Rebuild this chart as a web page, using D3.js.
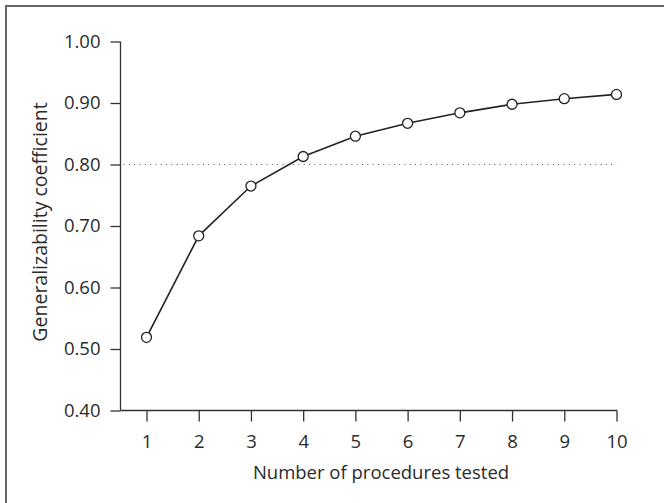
<!DOCTYPE html>
<html>
<head>
<meta charset="utf-8">
<script src="https://cdn.jsdelivr.net/npm/d3@7"></script>
<style>
  body { margin: 0; background: #fff; }
  text { font-family: "Open Sans", "Noto Sans", sans-serif; fill: #2b2b2b; }
</style>
</head>
<body>
<svg id="chart"></svg>
<script>
// data
const procedures = [1, 2, 3, 4, 5, 6, 7, 8, 9, 10];
const coefficients = [0.519, 0.684, 0.765, 0.813, 0.846, 0.867, 0.884, 0.898, 0.907, 0.914];
const yTicks = [0.40, 0.50, 0.60, 0.70, 0.80, 0.90, 1.00];
const threshold = 0.80;

const width = 664, height = 503;

const svg = d3.select('#chart')
    .attr('width', width)
    .attr('height', height);

// frame (right / bottom edges fall outside the picture)
svg.append('rect')
    .attr('x', 6).attr('y', 6)
    .attr('width', 700).attr('height', 600)
    .attr('fill', 'none')
    .attr('stroke', '#666')
    .attr('stroke-width', 2);

const xscale = d3.scaleLinear().domain([1, 10]).range([146.5, 616.5]);
const yscale = d3.scaleLinear().domain([0.4, 1.0]).range([410.5, 41.5]);
const axisX = 120.5;

const yaxis = d3.axisLeft(yscale)
    .tickValues(yTicks)
    .tickFormat(d3.format('.2f'))
    .tickSize(10)
    .tickSizeOuter(0)
    .tickPadding(10);

const xaxis = d3.axisBottom(xscale)
    .tickValues(procedures)
    .tickFormat(d3.format('d'))
    .tickSize(11)
    .tickSizeOuter(0)
    .tickPadding(13);

const yg = svg.append('g')
    .attr('transform', `translate(${axisX},0)`)
    .call(yaxis);
yg.select('.domain').remove();
yg.selectAll('line').attr('stroke', '#333').attr('stroke-width', 1.3);
yg.selectAll('text').style('font-size', '18.5px').attr('fill', '#2b2b2b');

const xg = svg.append('g')
    .attr('transform', `translate(0,${yscale(0.4)})`)
    .call(xaxis);
xg.select('.domain').remove();
xg.selectAll('line').attr('stroke', '#333').attr('stroke-width', 1.3);
xg.selectAll('text').style('font-size', '18.5px').attr('fill', '#2b2b2b');

// axis lines
svg.append('line')
    .attr('x1', axisX).attr('x2', axisX)
    .attr('y1', yscale(1.0)).attr('y2', yscale(0.4))
    .attr('stroke', '#333').attr('stroke-width', 1.3);
svg.append('line')
    .attr('x1', axisX).attr('x2', xscale(10) + 0.5)
    .attr('y1', yscale(0.4)).attr('y2', yscale(0.4))
    .attr('stroke', '#333').attr('stroke-width', 1.3);

// dotted reference line
svg.append('line')
    .attr('x1', axisX + 3).attr('x2', xscale(10))
    .attr('y1', yscale(threshold)).attr('y2', yscale(threshold))
    .attr('stroke', '#555')
    .attr('stroke-width', 1)
    .attr('stroke-dasharray', '1,4.3');

const points = procedures.map((p, i) => ({ p: p, v: coefficients[i] }));

svg.append('path')
    .datum(points)
    .attr('fill', 'none')
    .attr('stroke', '#222')
    .attr('stroke-width', 1.6)
    .attr('d', d3.line().x(d => xscale(d.p)).y(d => yscale(d.v)));

svg.selectAll('circle.pt')
    .data(points)
    .join('circle')
    .attr('class', 'pt')
    .attr('cx', d => xscale(d.p))
    .attr('cy', d => yscale(d.v))
    .attr('r', 5)
    .attr('fill', '#fff')
    .attr('stroke', '#222')
    .attr('stroke-width', 1.3);

// axis titles
svg.append('text')
    .attr('x', 381)
    .attr('y', 479)
    .attr('text-anchor', 'middle')
    .style('font-size', '18.5px')
    .text('Number of procedures tested');

svg.append('text')
    .attr('transform', 'translate(47,222) rotate(-90)')
    .attr('text-anchor', 'middle')
    .style('font-size', '19.5px')
    .text('Generalizability coefficient');
</script>
</body>
</html>
